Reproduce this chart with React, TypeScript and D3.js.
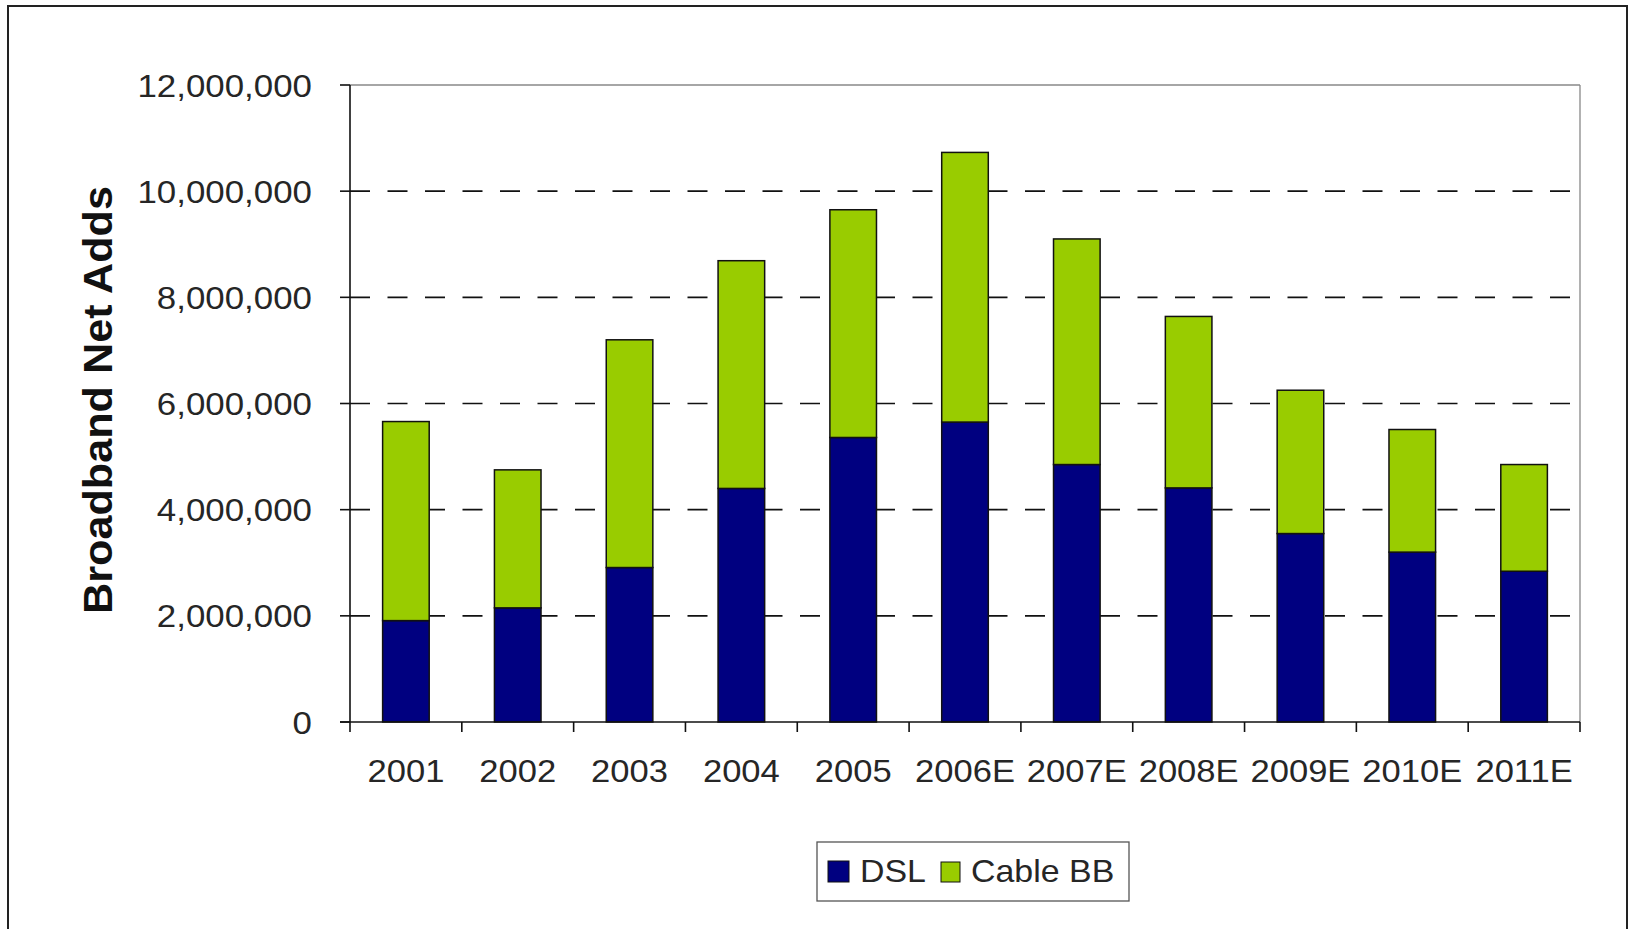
import React from "react";
import * as d3 from "d3";

const categories = ["2001", "2002", "2003", "2004", "2005", "2006E", "2007E", "2008E", "2009E", "2010E", "2011E"];
const dslValues = [1910000, 2150000, 2910000, 4400000, 5360000, 5650000, 4850000, 4410000, 3550000, 3200000, 2840000];
const cableValues = [3750000, 2600000, 4290000, 4290000, 4290000, 5080000, 4250000, 3230000, 2700000, 2310000, 2010000];
const yTicks = [0, 2000000, 4000000, 6000000, 8000000, 10000000, 12000000];
const seriesNames = ["DSL", "Cable BB"];
const seriesColors = ["#000080", "#99CC00"];

const W = 1630;
const H = 929;
const left = 350;
const right = 1580;
const top = 85;
const bottom = 722;

export default function App() {
  const x = d3.scaleBand<string>().domain(categories).range([left, right]).padding(0);
  const y = d3.scaleLinear().domain([0, 12000000]).range([bottom, top]);
  const bw = x.bandwidth() / 2.4;
  const fmt = d3.format(",");

  const rows = categories.map((c, i) => ({ cat: c, dsl: dslValues[i], cable: cableValues[i] }));
  const stack = d3.stack<any>().keys(["dsl", "cable"])(rows);

  const font = "'Liberation Sans', Arial, sans-serif";
  const textColor = "#262626";

  return (
    <svg width={W} height={H} style={{ position: "absolute", left: 0, top: 0, background: "#fff" }}>
      <rect x={0} y={0} width={W} height={H} fill="#fff" />
      {/* outer border */}
      <rect x={8} y={6} width={1619} height={940} fill="none" stroke="#222" strokeWidth={2} />

      {/* gridlines */}
      {yTicks.filter((t) => t > 0 && t < 12000000).map((t) => (
        <line key={t} x1={left} x2={right} y1={y(t)} y2={y(t)} stroke="#111" strokeWidth={1.6} strokeDasharray="20 17.5" />
      ))}

      {/* plot area top/right border */}
      <line x1={left} x2={right} y1={top} y2={top} stroke="#888" strokeWidth={1.3} />
      <line x1={right} x2={right} y1={top} y2={bottom} stroke="#888" strokeWidth={1.3} />

      {/* bars */}
      {stack.map((s, si) => (
        <g key={si}>
          {s.map((d, i) => (
            <rect
              key={i}
              x={(x(categories[i]) as number) + (x.bandwidth() - bw) / 2}
              y={y(d[1])}
              width={bw}
              height={y(d[0]) - y(d[1])}
              fill={seriesColors[si]}
              stroke="#111"
              strokeWidth={1.5}
            />
          ))}
        </g>
      ))}

      {/* axes */}
      <line x1={left} x2={left} y1={top} y2={bottom} stroke="#111" strokeWidth={1.6} />
      <line x1={left - 10} x2={right} y1={bottom} y2={bottom} stroke="#111" strokeWidth={1.6} />
      {yTicks.map((t) => (
        <g key={t}>
          <line x1={left - 10} x2={left} y1={y(t)} y2={y(t)} stroke="#111" strokeWidth={1.6} />
          <text
            transform={`translate(312, ${y(t)}) scale(1.09, 1)`}
            dy="0.36em"
            textAnchor="end"
            fontFamily={font}
            fontSize={32}
            fill={textColor}
          >
            {fmt(t)}
          </text>
        </g>
      ))}
      {categories.concat(["__end"]).map((c, i) => {
        const xx = left + i * x.bandwidth();
        return <line key={c} x1={xx} x2={xx} y1={bottom} y2={bottom + 10} stroke="#111" strokeWidth={1.6} />;
      })}
      {categories.map((c) => (
        <text
          key={c}
          transform={`translate(${(x(c) as number) + x.bandwidth() / 2}, 782) scale(1.08, 1)`}
          textAnchor="middle"
          fontFamily={font}
          fontSize={32}
          fill={textColor}
        >
          {c}
        </text>
      ))}

      {/* y title */}
      <text
        transform={`translate(112, 400) rotate(-90)`}
        textAnchor="middle"
        fontFamily={font}
        fontWeight="bold"
        fontSize={40}
        textLength={428}
        lengthAdjust="spacingAndGlyphs"
        fill="#111"
      >
        Broadband Net Adds
      </text>

      {/* legend */}
      <rect x={817} y={842} width={312} height={59} fill="#fff" stroke="#555" strokeWidth={1.3} />
      <rect x={828} y={861} width={21} height={21} fill={seriesColors[0]} stroke="#111" strokeWidth={1} />
      <text transform="translate(860, 882) scale(1.06, 1)" fontFamily={font} fontSize={32} fill={textColor}>{seriesNames[0]}</text>
      <rect x={941} y={862} width={19} height={20} fill={seriesColors[1]} stroke="#111" strokeWidth={1} />
      <text transform="translate(971, 882) scale(1.06, 1)" fontFamily={font} fontSize={32} fill={textColor}>{seriesNames[1]}</text>
    </svg>
  );
}
